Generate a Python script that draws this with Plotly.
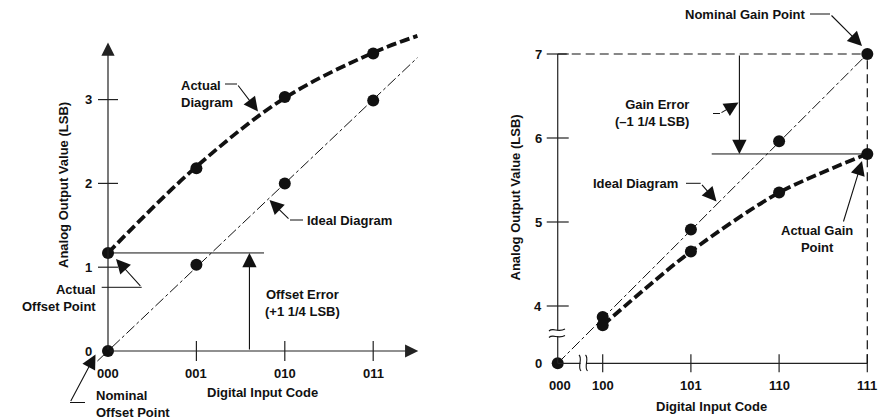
import plotly.graph_objects as go

W, H = 885, 419

# ---------------- data ----------------
# Left panel: offset error
codes_left = ["000", "001", "010", "011"]
xpos_left = [0, 1, 2, 3]
yticks_left = [0, 1, 2, 3]
ideal_left = [0.0, 1.03, 2.0, 2.99]
actual_left = [1.17, 2.18, 3.03, 3.55]
actual_left_curve_x = [0, 1, 2, 3, 3.5]
actual_left_curve_y = [1.17, 2.2, 3.02, 3.56, 3.76]
ideal_left_line_x = [-0.12, 3.5]
ideal_left_line_y = [-0.12, 3.5]
offset_error_x = 1.6
offset_error_end = 1.765

# Right panel: gain error (broken axes)
codes_right = ["000", "100", "101", "110", "111"]
X_ZERO = 3.49   # axis position of code 000 (after break)
Y_ZERO = 3.318  # axis position of value 0 (after break)
xpos_right = [X_ZERO, 4, 5, 6, 7]
ytick_vals_right = [0, 4, 5, 6, 7]
ideal_right = [0.0, 3.87, 4.91, 5.96, 7.0]
actual_right_x = [4, 5, 6, 7]
actual_right = [3.77, 4.65, 5.35, 5.81]
gain_error_x = 5.55
gain_error_start = 5.236


def ybrk(v):
    return Y_ZERO if v == 0 else v


ytick_pos_right = [ybrk(v) for v in ytick_vals_right]
ideal_right_pos = [ybrk(v) for v in ideal_right]

FONT = "Liberation Sans, Arial, Helvetica, sans-serif"
INK = "#111111"
AX = "#222222"
HEAD = 2.6
HW = 1.1


def P(x):
    return x / W


def Q(y):
    return 1 - y / H


fig = go.Figure()

# ---- left traces ----
fig.add_trace(go.Scatter(x=ideal_left_line_x, y=ideal_left_line_y, mode="lines",
                         line=dict(color=INK, width=1, dash="11px,3px,3px,3px"),
                         xaxis="x", yaxis="y", hoverinfo="skip"))
fig.add_trace(go.Scatter(x=actual_left_curve_x, y=actual_left_curve_y, mode="lines",
                         line=dict(color=INK, width=3.8, dash="10px,4px", shape="spline", smoothing=1.0),
                         xaxis="x", yaxis="y", hoverinfo="skip"))
fig.add_trace(go.Scatter(x=xpos_left, y=ideal_left, mode="markers",
                         marker=dict(color=INK, size=12), xaxis="x", yaxis="y", cliponaxis=False))
fig.add_trace(go.Scatter(x=xpos_left, y=actual_left, mode="markers",
                         marker=dict(color=INK, size=12), xaxis="x", yaxis="y", cliponaxis=False))

# ---- right traces ----
fig.add_trace(go.Scatter(x=[xpos_right[0], xpos_right[-1]], y=[ideal_right_pos[0], ideal_right_pos[-1]],
                         mode="lines", line=dict(color=INK, width=1, dash="11px,3px,3px,3px"),
                         xaxis="x2", yaxis="y2", hoverinfo="skip"))
fig.add_trace(go.Scatter(x=actual_right_x, y=actual_right, mode="lines",
                         line=dict(color=INK, width=3.8, dash="10px,4px", shape="spline", smoothing=0.8),
                         xaxis="x2", yaxis="y2", hoverinfo="skip"))
fig.add_trace(go.Scatter(x=xpos_right, y=ideal_right_pos, mode="markers",
                         marker=dict(color=INK, size=12), xaxis="x2", yaxis="y2", cliponaxis=False))
fig.add_trace(go.Scatter(x=actual_right_x, y=actual_right, mode="markers",
                         marker=dict(color=INK, size=12), xaxis="x2", yaxis="y2", cliponaxis=False))

shapes = []
ann = []


def hline_px(x0, x1, y, w=1):
    shapes.append(dict(type="line", xref="paper", yref="paper", x0=P(x0), x1=P(x1),
                       y0=Q(y), y1=Q(y), line=dict(color=INK, width=w)))


def arrow_px(tx, ty, hx, hy, w=HW, size=HEAD):
    ann.append(dict(xref="paper", yref="paper", x=P(hx), y=Q(hy), ax=tx - hx, ay=ty - hy,
                    axref="pixel", ayref="pixel", text="", showarrow=True, arrowhead=2,
                    arrowsize=size, arrowwidth=w, arrowcolor=INK, standoff=0, startstandoff=0))


def label_px(text, x, y, xanchor="center", align="center", size=13):
    ann.append(dict(xref="paper", yref="paper", x=P(x), y=Q(y), text=text, showarrow=False,
                    xanchor=xanchor, yanchor="middle", align=align,
                    font=dict(family=FONT, size=size, color=INK, weight="bold")))


# ---------------- left axes ----------------
ann.append(dict(xref="x", yref="y", x=0, y=3.68, ax=0, ay=0, axref="x", ayref="y", text="",
                showarrow=True, arrowhead=2, arrowsize=2.2, arrowwidth=1.2, arrowcolor=AX,
                standoff=0, startstandoff=0))
ann.append(dict(xref="x", yref="y", x=3.51, y=0, ax=0, ay=0, axref="x", ayref="y", text="",
                showarrow=True, arrowhead=2, arrowsize=2.2, arrowwidth=1.2, arrowcolor=AX,
                standoff=0, startstandoff=0))
for v in yticks_left[1:]:
    shapes.append(dict(type="line", xref="x", yref="y", xsizemode="pixel", xanchor=0,
                       x0=-10, x1=10, y0=v, y1=v, line=dict(color=AX, width=1.2)))
for v in xpos_left[1:]:
    shapes.append(dict(type="line", xref="x", yref="y", ysizemode="pixel", yanchor=0,
                       y0=-10, y1=10, x0=v, x1=v, line=dict(color=AX, width=1.2)))
for v in yticks_left:
    ann.append(dict(xref="x", yref="y", x=0, y=v, text=str(v), showarrow=False, xanchor="right",
                    yanchor="middle", xshift=-14, font=dict(family=FONT, size=13, color=INK, weight="bold")))
for xp, c in zip(xpos_left, codes_left):
    ann.append(dict(xref="x", yref="y", x=xp, y=0, text=c, showarrow=False, xanchor="center",
                    yanchor="middle", yshift=-22, font=dict(family=FONT, size=13, color=INK, weight="bold")))

# offset error marker lines
shapes.append(dict(type="line", xref="x", yref="y", x0=0, x1=offset_error_end,
                   y0=actual_left[0], y1=actual_left[0], line=dict(color=INK, width=1)))
ann.append(dict(xref="x", yref="y", x=offset_error_x, y=actual_left[0], ax=offset_error_x, ay=0,
                axref="x", ayref="y", text="", showarrow=True, arrowhead=2, arrowsize=HEAD,
                arrowwidth=HW, arrowcolor=INK, standoff=0, startstandoff=0))

# ---------------- right axes ----------------
shapes.append(dict(type="line", xref="x2", yref="y2", x0=X_ZERO, x1=X_ZERO, y0=Y_ZERO, y1=7,
                   line=dict(color=AX, width=1.2)))
shapes.append(dict(type="line", xref="x2", yref="y2", x0=X_ZERO, x1=7, y0=Y_ZERO, y1=Y_ZERO,
                   line=dict(color=AX, width=1.2)))
for v in ytick_vals_right[1:]:
    shapes.append(dict(type="line", xref="x2", yref="y2", xsizemode="pixel", xanchor=X_ZERO,
                       x0=-11, x1=11, y0=v, y1=v, line=dict(color=AX, width=1.2)))
for v in xpos_right[1:]:
    shapes.append(dict(type="line", xref="x2", yref="y2", ysizemode="pixel", yanchor=Y_ZERO,
                       y0=-9, y1=9, x0=v, x1=v, line=dict(color=AX, width=1.2)))
for v, lab in zip(ytick_pos_right, ytick_vals_right):
    ann.append(dict(xref="x2", yref="y2", x=X_ZERO, y=v, text=str(lab), showarrow=False, xanchor="right",
                    yanchor="middle", xshift=-14, font=dict(family=FONT, size=13, color=INK, weight="bold")))
for xp, c in zip(xpos_right, codes_right):
    ann.append(dict(xref="x2", yref="y2", x=xp, y=Y_ZERO, text=c, showarrow=False, xanchor="center",
                    yanchor="middle", yshift=-22, xshift=2 if c == "000" else 0,
                    font=dict(family=FONT, size=13, color=INK, weight="bold")))

# dashed nominal lines
shapes.append(dict(type="line", xref="x2", yref="y2", x0=X_ZERO, x1=7, y0=7, y1=7,
                   line=dict(color=INK, width=1.2, dash="9px,5px")))
shapes.append(dict(type="line", xref="x2", yref="y2", x0=7, x1=7, y0=Y_ZERO, y1=7,
                   line=dict(color=INK, width=1.2, dash="9px,5px")))

# gain error lines
shapes.append(dict(type="line", xref="x2", yref="y2", x0=gain_error_start, x1=7,
                   y0=actual_right[-1], y1=actual_right[-1], line=dict(color=INK, width=1)))
ann.append(dict(xref="x2", yref="y2", x=gain_error_x, y=actual_right[-1], ax=gain_error_x, ay=7,
                axref="x2", ayref="y2", text="", showarrow=True, arrowhead=2, arrowsize=HEAD,
                arrowwidth=HW, arrowcolor=INK, standoff=0, startstandoff=0))

# axis breaks (white gaps + squiggles), pixel-positioned
shapes.append(dict(type="rect", xref="paper", yref="paper", x0=P(552), x1=P(563), y0=Q(336), y1=Q(330.5),
                   fillcolor="white", line=dict(width=0), layer="above"))
shapes.append(dict(type="rect", xref="paper", yref="paper", x0=P(580.5), x1=P(586), y0=Q(358), y1=Q(368),
                   fillcolor="white", line=dict(width=0), layer="above"))


def path_px(pts):
    (x0, y0), rest = pts[0], pts[1:]
    return f"M {P(x0)} {Q(y0)} C " + " ".join(f"{P(x)} {Q(y)}" for x, y in rest)


for yy in (330, 336.5):
    shapes.append(dict(type="path", xref="paper", yref="paper",
                       path=path_px([(549, yy + 1), (553, yy - 3), (558, yy + 3), (565, yy - 1)]),
                       line=dict(color=INK, width=1.1), layer="above"))
for xx in (580, 586.5):
    shapes.append(dict(type="path", xref="paper", yref="paper",
                       path=path_px([(xx - 1, 355), (xx + 3, 359), (xx - 3, 366), (xx + 1, 371)]),
                       line=dict(color=INK, width=1.1), layer="above"))

# ---------------- annotations / leaders ----------------
# left
label_px("Actual<br>Diagram", 178.5, 94, xanchor="left", align="left")
hline_px(225, 237, 84)
arrow_px(237, 84, 258, 111.5)

label_px("Ideal Diagram", 305, 220, xanchor="left", align="left")
hline_px(290, 303, 220)
arrow_px(290, 220, 269.5, 200)

label_px("Actual<br>Offset Point", 97.5, 297.5, xanchor="right", align="right")
hline_px(101.7, 141.7, 287.3)
arrow_px(141.7, 287.3, 116, 259)

label_px("Nominal<br>Offset Point", 94, 403.5, xanchor="left", align="left")
hline_px(70, 85, 402.5)
arrow_px(70, 402.5, 95.5, 354.5)

label_px("Offset Error<br>(+1 1/4 LSB)", 302, 303)
label_px("Digital Input Code", 262, 392.7)
ann.append(dict(xref="paper", yref="paper", x=P(64), y=Q(185), text="Analog Output Value (LSB)",
                showarrow=False, textangle=-90, xanchor="center", yanchor="middle",
                font=dict(family=FONT, size=13, color=INK, weight="bold")))

# right
label_px("Nominal Gain Point", 808, 14, xanchor="right", align="right")
hline_px(810, 830, 14)
arrow_px(830, 14, 862, 46)

label_px("Gain Error<br>(\u20131 1/4 LSB)", 690.7, 112.8, xanchor="right", align="right")
hline_px(713, 720, 113.5)
arrow_px(720, 113.5, 738.5, 102.5)

label_px("Ideal Diagram", 680, 183.3, xanchor="right", align="right")
hline_px(686, 700.7, 183.3)
arrow_px(700.7, 183.3, 716.5, 201.5)

label_px("Actual Gain<br>Point", 817, 238.5)
arrow_px(843, 223, 862, 161)

label_px("Digital Input Code", 711.7, 406)
ann.append(dict(xref="paper", yref="paper", x=P(515), y=Q(197.5), text="Analog Output Value (LSB)",
                showarrow=False, textangle=-90, xanchor="center", yanchor="middle",
                font=dict(family=FONT, size=13, color=INK, weight="bold")))

axis_common = dict(visible=False, fixedrange=True, showgrid=False, zeroline=False)
fig.update_layout(
    width=W, height=H, margin=dict(l=0, r=0, t=0, b=0),
    paper_bgcolor="white", plot_bgcolor="rgba(0,0,0,0)", showlegend=False,
    xaxis=dict(domain=[0, 440 / W], range=[-108 / 88.4, (440 - 108) / 88.4], **axis_common),
    yaxis=dict(domain=[0, 1], range=[(351 - 419) / 83.8, 351 / 83.8], **axis_common),
    xaxis2=dict(domain=[445 / W, 1], range=[4 - (602.7 - 445) / 88.2, 4 + (885 - 602.7) / 88.2],
                anchor="y2", **axis_common),
    yaxis2=dict(domain=[0, 1], range=[4 - (419 - 306) / 84, 4 + 306 / 84], anchor="x2", **axis_common),
    shapes=shapes, annotations=ann,
)

fig.write_html("out.html")
